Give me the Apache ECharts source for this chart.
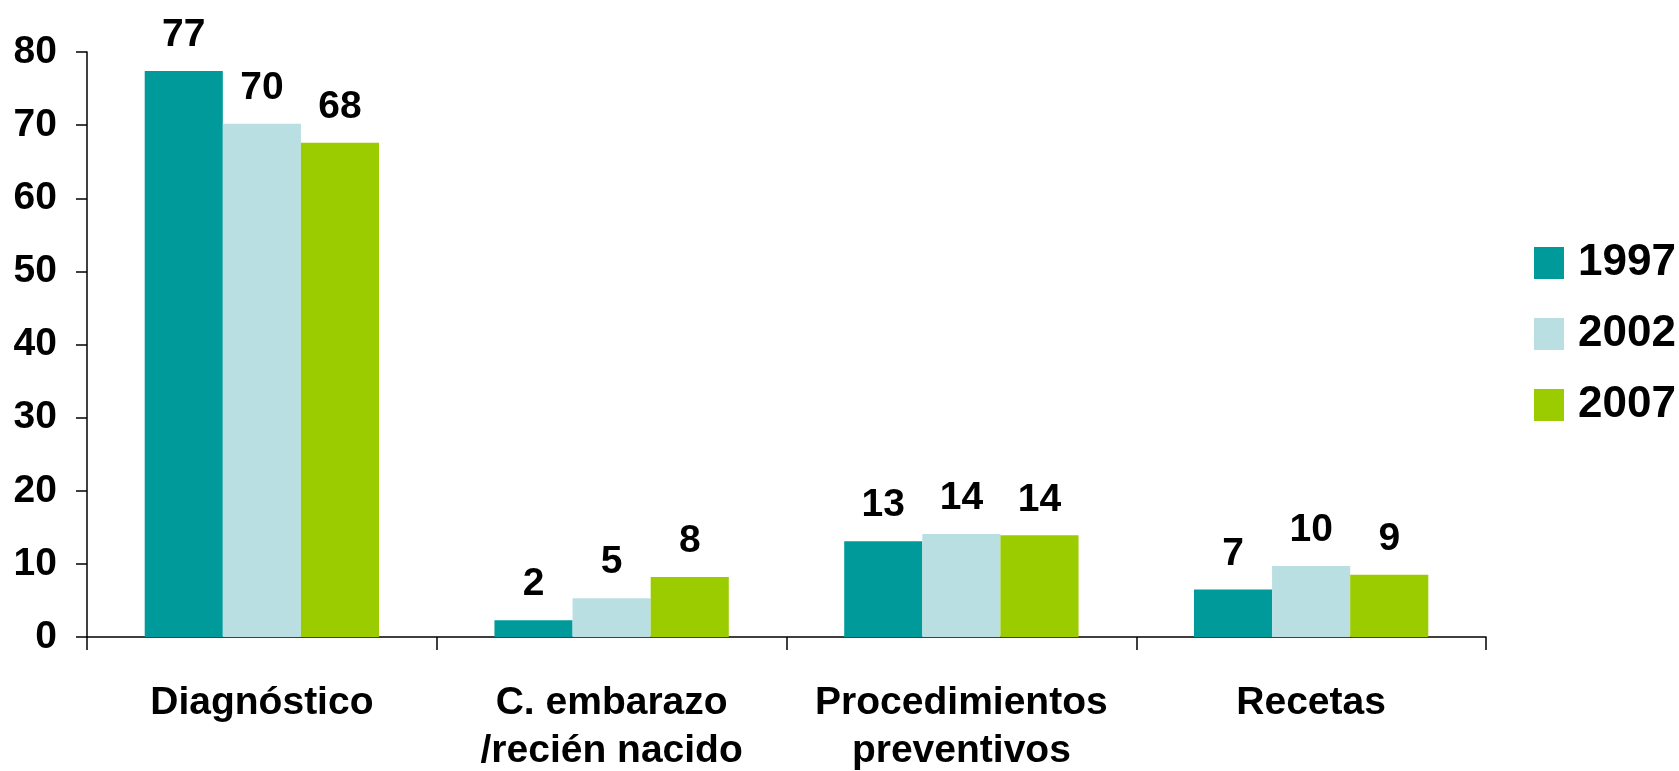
<!DOCTYPE html>
<html>
<head>
<meta charset="utf-8">
<script src="https://cdn.jsdelivr.net/npm/echarts@6/dist/echarts.min.js"></script>
<style>
  html, body { margin: 0; padding: 0; background: #fff; }
  #main { width: 1679px; height: 771px; }
</style>
</head>
<body>
<div id="main"></div>
<script>
const categories = ["Diagnóstico", "C. embarazo\n/recién nacido", "Procedimientos\npreventivos", "Recetas"];
const years = ["1997", "2002", "2007"];
const values1997 = [77.4, 2.3, 13.1, 6.5];
const values2002 = [70.2, 5.3, 14.1, 9.7];
const values2007 = [67.6, 8.2, 13.9, 8.5];
const labels1997 = ["77", "2", "13", "7"];
const labels2002 = ["70", "5", "14", "10"];
const labels2007 = ["68", "8", "14", "9"];
const colors = ["#009a9a", "#badfe3", "#9acc00"];

let dom = document.getElementById("main");
let myChart = echarts.init(dom, null, { renderer: "canvas" });

const font = "Liberation Sans, Arial, sans-serif";

function makeSeries(name, data, labels, color) {
    return {
        name: name,
        type: "bar",
        data: data,
        barGap: "0%",
        barCategoryGap: "33%",
        itemStyle: { color: color },
        label: {
            show: true,
            position: "top",
            distance: 16,
            color: "#000",
            fontFamily: font,
            fontWeight: "bold",
            fontSize: 39,
            formatter: (p) => labels[p.dataIndex],
        },
    };
}

let option = {
    animation: false,
    textStyle: { fontFamily: font },
    grid: { left: 87, right: 193, top: 52, bottom: 134, outerBoundsMode: "none", containLabel: false },
    legend: {
        orient: "vertical",
        left: 1534,
        top: 241,
        padding: 0,
        itemWidth: 30,
        itemHeight: 32,
        itemGap: 27,
        icon: "rect",
        data: years,
        textStyle: {
            color: "#000",
            fontFamily: font,
            fontWeight: "bold",
            fontSize: 44,
            lineHeight: 40,
            padding: [0, 0, 0, 9],
        },
    },
    xAxis: {
        type: "category",
        data: categories,
        axisLine: { lineStyle: { color: "#000", width: 1.5 } },
        axisTick: { show: true, length: 13, lineStyle: { color: "#000", width: 1.5 } },
        axisLabel: {
            color: "#000",
            fontFamily: font,
            fontWeight: "bold",
            fontSize: 39,
            lineHeight: 48,
            margin: 42,
            interval: 0,
        },
    },
    yAxis: {
        type: "value",
        min: 0,
        max: 80,
        interval: 10,
        splitLine: { show: false },
        axisLine: { show: true, lineStyle: { color: "#000", width: 1.5 } },
        axisTick: { show: true, length: 11, lineStyle: { color: "#000", width: 1.5 } },
        axisLabel: {
            color: "#000",
            fontFamily: font,
            fontWeight: "bold",
            fontSize: 39,
            margin: 30,
        },
    },
    series: [
        makeSeries(years[0], values1997, labels1997, colors[0]),
        makeSeries(years[1], values2002, labels2002, colors[1]),
        makeSeries(years[2], values2007, labels2007, colors[2]),
    ],
};

myChart.setOption(option);
window.addEventListener("resize", myChart.resize);
</script>
</body>
</html>
